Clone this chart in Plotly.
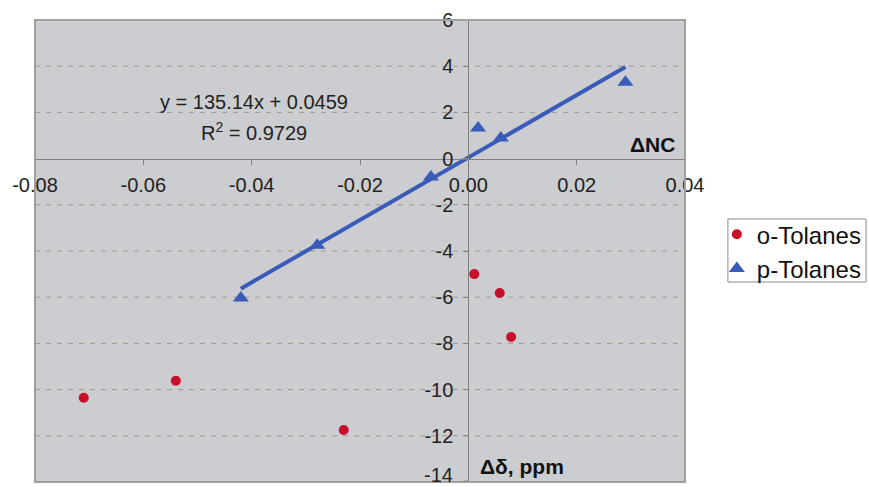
import plotly.graph_objects as go

# Data
o_x = [-0.071, -0.054, -0.023, 0.0011, 0.0058, 0.0079]
o_y = [-10.35, -9.62, -11.75, -5.0, -5.82, -7.72]
p_x = [-0.042, -0.0279, -0.0069, 0.0018, 0.006, 0.029]
p_y = [-6.03, -3.75, -0.8, 1.32, 0.89, 3.31]
slope = 135.14
intercept = 0.0459
r2 = 0.9729

x_ticks = [-0.08, -0.06, -0.04, -0.02, 0.00, 0.02, 0.04]
x_tick_text = ["-0.08", "-0.06", "-0.04", "-0.02", "0.00", "0.02", "0.04"]
y_ticks = [-12, -10, -8, -6, -4, -2, 0, 2, 4, 6]
y_tick_text = ["-12", "-10", "-8", "-6", "-4", "-2", "0", "2", "4", "6"]
y_min_label = "-14"

FONT = "Liberation Sans, Arial, sans-serif"

fig = go.Figure()

shapes = []
for yv in y_ticks:
    if yv in (0, 6):
        continue
    shapes.append(dict(type="line", xref="x", yref="y", x0=-0.08, x1=0.04, y0=yv, y1=yv,
                       line=dict(color="#a0988e", width=1, dash="5px,6px"), layer="below"))
shapes.append(dict(type="rect", xref="paper", yref="paper", x0=0, x1=1, y0=0, y1=1,
                   line=dict(color="#a0a0a0", width=2), layer="above"))
# legend box
shapes.append(dict(type="rect", xref="paper", yref="paper", x0=1.066, x1=1.2785, y0=0.4329, y1=0.5693,
                   line=dict(color="#8a8a8a", width=1), fillcolor="white", layer="below"))
# tick mark at the bottom of the y axis
shapes.append(dict(type="line", xref="x", yref="paper", x0=-0.00092, x1=0, y0=0.002, y1=0.002,
                   line=dict(color="#808080", width=1)))

trend_x = [min(p_x), max(p_x)]
trend_y = [slope * v + intercept for v in trend_x]
fig.add_trace(go.Scatter(x=trend_x, y=trend_y, mode="lines",
                         line=dict(color="#3a5bb8", width=4), showlegend=False, hoverinfo="skip"))

fig.add_trace(go.Scatter(x=o_x, y=o_y, mode="markers", name="o-Tolanes",
                         marker=dict(symbol="circle", size=10, color="#c8102a")))
fig.add_trace(go.Scatter(x=p_x, y=p_y, mode="markers", name="p-Tolanes",
                         marker=dict(symbol="triangle-up", size=14, color="#3a5bb8")))

fig.add_annotation(x=-0.0396, y=2.45, xref="x", yref="y", showarrow=False,
                   text=f"y = {slope}x + {intercept}", font=dict(size=20, color="#222", family=FONT))
fig.add_annotation(x=-0.0396, y=1.19, xref="x", yref="y", showarrow=False,
                   text=f"R<sup>2</sup> = {r2}", font=dict(size=20, color="#222", family=FONT))
fig.add_annotation(x=0.0386, y=0.62, xref="x", yref="y", showarrow=False, xanchor="right",
                   text="<b>ΔNC</b>", font=dict(size=21, color="#111", family=FONT))
fig.add_annotation(x=0.0018, y=-13.35, xref="x", yref="y", showarrow=False, xanchor="left",
                   text="<b>Δδ, ppm</b>", font=dict(size=21, color="#111", family=FONT))
fig.add_annotation(x=-0.0026, y=-0.0108, xref="x", yref="paper", showarrow=False, xanchor="right",
                   yanchor="bottom", borderpad=0, text=y_min_label,
                   font=dict(size=20, color="#222", family=FONT))

fig.update_layout(
    width=869, height=487,
    margin=dict(l=35, r=184, t=20, b=5, autoexpand=False),
    paper_bgcolor="white",
    plot_bgcolor="#cbcdd0",
    font=dict(family=FONT, size=20, color="#222"),
    xaxis=dict(range=[-0.08, 0.04], tickvals=x_ticks, ticktext=x_tick_text,
               tickfont=dict(size=20, color="#222", family=FONT),
               showgrid=False, zeroline=False, showline=True, linecolor="#808080", linewidth=1,
               anchor="free", position=0.7, ticks="outside", ticklen=5, tickcolor="#808080",
               ticklabelstandoff=3, automargin=False, fixedrange=True),
    yaxis=dict(range=[-14, 6], tickvals=y_ticks, ticktext=y_tick_text,
               tickfont=dict(size=20, color="#222", family=FONT),
               showgrid=False, zeroline=False, showline=True, linecolor="#808080", linewidth=1,
               anchor="free", position=0.6667, ticks="outside", ticklen=5, tickcolor="#808080",
               ticklabelstandoff=6, automargin=False, fixedrange=True),
    legend=dict(x=1.049, y=0.584, xanchor="left", yanchor="top",
                bgcolor="rgba(0,0,0,0)", borderwidth=0,
                font=dict(size=24, color="#111", family=FONT)),
    shapes=shapes,
)

fig.write_html("out.html", post_script="document.body.style.margin='0';",
               config={"displayModeBar": False})
